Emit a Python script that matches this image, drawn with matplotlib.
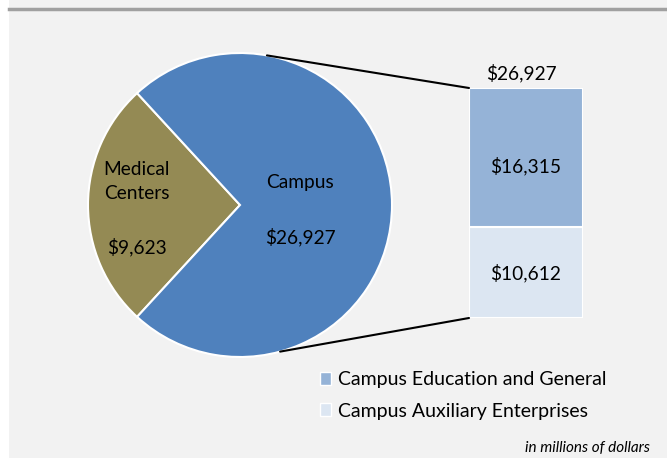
import matplotlib.pyplot as plt
from matplotlib.patches import ConnectionPatch, Rectangle
import numpy as np

plt.rcParams["font.family"] = ["Lato", "DejaVu Sans"]

# Data (in millions of dollars)
pie_labels = ["Medical\nCenters", "Campus"]
pie_values = [9623, 26927]
bar_labels = ["Campus Auxiliary Enterprises", "Campus Education and General"]
bar_values = [10612, 16315]

pie_colors = ["#948a54", "#4f81bd"]
bar_colors = ["#dce6f2", "#95b3d7"]

W, H = 667, 458
fig = plt.figure(figsize=(W / 100, H / 100), dpi=100)
fig.patch.set_facecolor("#f2f2f2")

# white strip on the left and grey rule on top
fig.patches.append(Rectangle((0, 0), 9 / W, 1, transform=fig.transFigure,
                             facecolor="white", edgecolor="none", zorder=0))
fig.add_artist(plt.Line2D([9 / W, 1], [1 - 8.5 / H, 1 - 8.5 / H],
                          transform=fig.transFigure, color="#a0a0a0", lw=2.5))

# Pie axes: centre (240, 205) px, radius 152 px
ax_pie = fig.add_axes([88 / W, (H - 357) / H, 304 / W, 304 / H])
ax_pie.set_facecolor("none")
med_frac = pie_values[0] / sum(pie_values)
start = 180 - med_frac * 360 / 2
wedges, _ = ax_pie.pie(pie_values, colors=pie_colors, startangle=start,
                       radius=1, wedgeprops=dict(edgecolor="white", linewidth=1.5))
ax_pie.set_xlim(-1, 1)
ax_pie.set_ylim(-1, 1)

# labels inside the pie
fs = 13.8
ax_pie.text(-0.68, 0.155, pie_labels[0], ha="center", va="center", fontsize=fs,
            linespacing=1.55)
ax_pie.text(-0.68, -0.276, "$%s" % format(pie_values[0], ","), ha="center", va="center",
            fontsize=fs)
ax_pie.text(0.395, 0.145, pie_labels[1], ha="center", va="center", fontsize=fs)
ax_pie.text(0.395, -0.21, "$%s" % format(pie_values[1], ","), ha="center", va="center",
            fontsize=fs)

# Bar axes: x 469..583, y 88..318 px
ax_bar = fig.add_axes([469 / W, (H - 318) / H, 114 / W, 230 / H])
ax_bar.set_facecolor("none")
label_frac = [0.5, 0.44]
bottom = 0
for val, col, frac in zip(bar_values, bar_colors, label_frac):
    ax_bar.bar(0, val, width=1, bottom=bottom, color=col, edgecolor="white", linewidth=1.5)
    ax_bar.text(0, bottom + val * frac, "$%s" % format(val, ","), ha="center", va="center",
                fontsize=fs)
    bottom += val
total = sum(bar_values)
ax_bar.text(-0.04, total + 1800, "$%s" % format(total, ","), ha="center", va="center",
            fontsize=fs)
ax_bar.set_xlim(-0.5, 0.5)
ax_bar.set_ylim(0, total)
ax_bar.axis("off")

# connector lines
for ang, yb in [(79.8, total), (-74.7, 0)]:
    a = np.deg2rad(ang)
    con = ConnectionPatch(xyA=(np.cos(a), np.sin(a)), coordsA=ax_pie.transData,
                          xyB=(-0.5, yb), coordsB=ax_bar.transData,
                          color="black", linewidth=1.5)
    fig.add_artist(con)

# legend
handles = [Rectangle((0, 0), 1, 1, facecolor=bar_colors[1], edgecolor="white"),
           Rectangle((0, 0), 1, 1, facecolor=bar_colors[0], edgecolor="white")]
fig.legend(handles, [bar_labels[1], bar_labels[0]], loc="upper left",
           bbox_to_anchor=(302 / W, 1 - 354 / H), frameon=False, fontsize=14,
           handlelength=0.6, handleheight=0.6, handletextpad=0.35,
           labelspacing=0.72)

fig.text(650 / W, 1 - 448 / H, "in millions of dollars", ha="right", va="center",
         fontsize=11, style="italic")

fig.savefig("out.png", dpi=100, facecolor=fig.get_facecolor())
